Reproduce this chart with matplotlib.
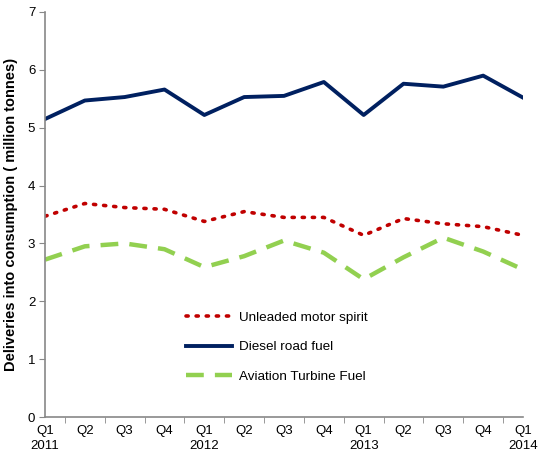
import matplotlib.pyplot as plt
import numpy as np

plt.rcParams['font.family'] = ['Liberation Sans', 'DejaVu Sans']

quarters = ['Q1\n2011', 'Q2', 'Q3', 'Q4', 'Q1\n2012', 'Q2', 'Q3', 'Q4',
            'Q1\n2013', 'Q2', 'Q3', 'Q4', 'Q1\n2014']
unleaded = [3.47, 3.69, 3.62, 3.59, 3.38, 3.55, 3.45, 3.45, 3.14, 3.43, 3.34, 3.29, 3.14]
diesel = [5.15, 5.47, 5.53, 5.66, 5.22, 5.53, 5.55, 5.79, 5.22, 5.76, 5.71, 5.90, 5.52]
aviation = [2.72, 2.95, 3.00, 2.90, 2.59, 2.78, 3.05, 2.84, 2.38, 2.76, 3.10, 2.86, 2.55]

x = np.arange(len(quarters))

fig = plt.figure(figsize=(5.39, 4.53), dpi=100)
ax = fig.add_axes([45 / 539, 36 / 453, 478 / 539, 405 / 453])

ax.plot(x, unleaded, color='#C00000', lw=2.6, linestyle=(0, (0.6, 2.2)),
        dash_capstyle='round', label='Unleaded motor spirit')
ax.plot(x, diesel, color='#002060', lw=2.8, label='Diesel road fuel')
ax.plot(x, aviation, color='#92D050', lw=3.2, linestyle=(0, (4, 2.5)),
        label='Aviation Turbine Fuel')

ax.set_xlim(0, len(quarters) - 1)
ax.set_ylim(0, 7)
ax.set_yticks(range(0, 8))
ax.set_xticks(x)
ax.set_xticklabels(quarters, fontsize=9.5, linespacing=1.35)
ax.set_xticks(np.arange(0.5, len(quarters) - 1, 1), minor=True)
ax.tick_params(axis='x', which='major', length=0, pad=6)
ax.tick_params(axis='x', which='minor', length=4, color='#888888')
ax.tick_params(axis='y', length=4, color='#888888', labelsize=9.5, pad=3)

for side in ['top', 'right']:
    ax.spines[side].set_visible(False)
for side in ['left', 'bottom']:
    ax.spines[side].set_color('#888888')
    ax.spines[side].set_linewidth(1.2)

ax.set_ylabel('Deliveries into consumption ( million tonnes)', fontsize=10.5,
              fontweight='bold', labelpad=7)

ax.legend(loc='upper left', bbox_to_anchor=(0.27, 0.29), frameon=False,
          fontsize=9.7, handlelength=3.4, handletextpad=0.5, labelspacing=1.25)

plt.savefig('out.png')
